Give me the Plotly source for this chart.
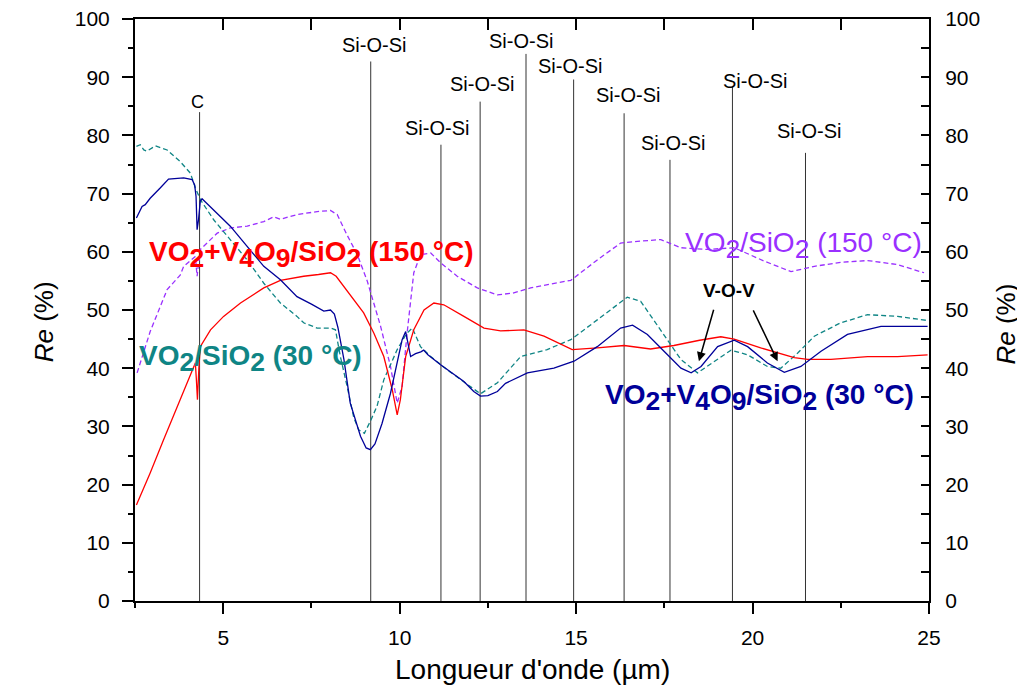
import plotly.graph_objects as go

FONT = "Liberation Sans, Arial, sans-serif"

# ---------------- data ----------------
# VO2+V4O9/SiO2 (30 °C) - navy solid
x_blue = [2.54, 2.70, 2.79, 2.93, 3.22, 3.45, 3.88, 4.12, 4.19, 4.23, 4.26, 4.30, 4.35, 4.40,
          5.20, 6.15, 6.62, 7.09, 7.50, 7.85, 8.04, 8.15, 8.25, 8.42, 8.60, 8.89, 9.05, 9.17,
          9.30, 9.50, 9.74, 9.90, 10.07, 10.17, 10.25, 10.31, 10.45, 10.60, 10.68, 10.80,
          11.16, 11.82, 12.10, 12.29, 12.50, 12.77, 13.00, 13.62, 14.37, 14.94, 15.60, 16.26,
          16.60, 17.02, 17.59, 17.97, 18.26, 18.54, 19.01, 19.48, 19.86, 20.42, 20.90, 21.37,
          21.94, 22.69, 23.64, 24.96]
y_blue = [65.8, 67.8, 68.1, 69.2, 71.0, 72.5, 72.7, 72.4, 71.5, 69.5, 63.8, 65.5, 68.7, 69.1,
          64.4, 57.5, 55.2, 52.3, 51.0, 49.8, 50.0, 49.3, 47.0, 41.5, 34.0, 28.3, 26.3, 26.0,
          27.0, 30.5, 35.7, 40.0, 44.9, 46.3, 44.0, 42.0, 42.5, 42.8, 43.1, 42.3,
          40.6, 37.7, 36.0, 35.2, 35.3, 36.0, 37.4, 39.2, 40.0, 41.2, 43.7, 46.9,
          47.4, 45.8, 42.3, 40.0, 39.2, 40.3, 43.7, 44.8, 43.7, 40.9, 39.3, 40.3,
          42.9, 45.8, 47.2, 47.2]

# VO2/SiO2 (30 °C) - teal dashed
x_teal = [2.54, 2.65, 2.75, 2.84, 3.08, 3.41, 3.78, 4.07, 4.21, 4.35, 4.73, 5.20, 5.68, 6.15,
          6.62, 7.09, 7.28, 7.66, 8.04, 8.18, 8.32, 8.51, 8.70, 8.84, 9.00, 9.17, 9.36, 9.55,
          9.93, 10.20, 10.36, 10.59, 10.88, 11.35, 12.01, 12.29, 12.77, 13.43, 14.18, 14.85,
          15.60, 16.45, 16.83, 17.40, 17.97, 18.44, 18.91, 19.39, 19.86, 20.42, 20.80, 21.28,
          21.75, 22.50, 23.26, 24.11, 24.96]
y_teal = [78.1, 78.4, 77.5, 77.3, 78.2, 77.5, 75.5, 73.5, 71.0, 69.0, 65.5, 62.1, 58.6, 54.6,
          51.2, 48.9, 47.8, 46.9, 46.9, 46.6, 42.0, 36.9, 31.5, 29.4, 28.8, 30.9, 33.5, 38.0,
          43.2, 46.0, 46.9, 43.7, 42.0, 39.7, 36.9, 35.6, 37.5, 42.0, 43.2, 44.9,
          48.3, 52.2, 51.5, 46.6, 41.5, 39.2, 41.2, 43.1, 42.3, 40.3, 40.0, 42.6,
          45.5, 47.8, 49.2, 48.9, 48.2]

# VO2+V4O9/SiO2 (150 °C) - red solid
x_red = [2.54, 2.93, 3.31, 3.78, 4.21, 4.24, 4.27, 4.31, 4.35, 4.64, 5.01, 5.49, 6.15, 6.62,
         7.28, 7.70, 8.04, 8.20, 8.51, 8.98, 9.27, 9.55, 9.79, 9.93, 10.02, 10.17, 10.40,
         10.69, 10.97, 11.25, 11.82, 12.39, 12.86, 13.52, 14.09, 14.89, 15.60, 16.36, 17.11,
         17.77, 18.50, 19.10, 19.48, 20.23, 21.18, 21.56, 22.22, 23.26, 24.11, 24.96]
y_red = [16.5, 22.0, 27.7, 34.6, 40.9, 38.0, 34.6, 40.0, 43.7, 46.6, 48.9, 51.2, 53.8, 55.1,
         55.8, 56.1, 56.4, 55.8, 53.3, 49.5, 46.0, 42.0, 36.3, 32.0, 34.6, 42.0, 46.6,
         50.0, 51.2, 50.9, 48.9, 46.9, 46.4, 46.6, 45.5, 43.2, 43.5, 43.9, 43.3,
         43.9, 44.8, 45.4, 45.0, 43.5, 41.8, 41.5, 41.5, 42.0, 42.0, 42.3]

# VO2/SiO2 (150 °C) - purple dashed
x_purple = [2.56, 2.75, 2.93, 3.31, 3.41, 3.78, 3.88, 4.21, 4.24, 4.26, 4.30, 4.35, 4.83, 5.20,
            5.68, 6.15, 6.43, 6.62, 7.09, 7.66, 8.04, 8.23, 8.50, 8.80, 9.08, 9.46, 9.74, 9.93,
            10.07, 10.21, 10.40, 10.59, 10.88, 11.16, 11.63, 12.20, 12.77, 13.20, 13.71, 14.85,
            15.60, 16.26, 16.74, 17.40, 17.97, 18.72, 19.48, 20.33, 21.09, 21.75, 22.50, 23.26,
            24.11, 24.86]
y_purple = [39.2, 43.0, 46.3, 52.0, 53.5, 56.0, 57.5, 59.2, 57.0, 55.8, 58.0, 60.4, 63.2, 64.1,
            64.4, 65.2, 66.0, 65.6, 66.4, 66.9, 67.1, 66.4, 63.0, 59.5, 55.0, 47.2, 40.3, 34.0,
            36.9, 46.0, 56.4, 59.5, 59.8, 58.1, 55.8, 53.8, 52.6, 52.9, 53.8, 55.1,
            58.6, 61.5, 61.8, 62.1, 60.7, 60.4, 60.7, 58.4, 56.6, 57.5, 58.2, 58.5,
            57.8, 56.4]

# band assignments (vertical markers)
peak_x = [4.33, 9.18, 11.17, 12.28, 13.58, 14.93, 16.36, 17.66, 19.43, 21.50]
peak_top = [84.0, 92.7, 78.4, 85.8, 94.0, 89.6, 83.8, 75.8, 88.5, 77.0]
peak_label = ["C", "Si-O-Si", "Si-O-Si", "Si-O-Si", "Si-O-Si", "Si-O-Si",
              "Si-O-Si", "Si-O-Si", "Si-O-Si", "Si-O-Si"]
label_y = [85.8, 95.5, 81.2, 88.9, 96.3, 92.0, 87.0, 78.7, 89.4, 80.7]
label_dx = [-2, 3, -4, 2, -5, -4, 4, 3, 23, 4]

# V-O-V arrows: (tail x, tail y, head x, head y)
vov_tail_x = [18.91, 20.00]
vov_tail_y = [50.3, 50.2]
vov_head_x = [18.48, 20.71]
vov_head_y = [41.2, 41.2]

RED = "#ff0000"
NAVY = "#000099"
TEAL = "#0f8585"
PURPLE = "#9a30ff"

fig = go.Figure()

fig.add_trace(go.Scatter(x=x_purple, y=y_purple, mode="lines",
                         line=dict(color=PURPLE, width=1.3, dash="5px,3px"),
                         name="VO2/SiO2 (150 °C)"))
fig.add_trace(go.Scatter(x=x_teal, y=y_teal, mode="lines",
                         line=dict(color=TEAL, width=1.3, dash="5px,3px"),
                         name="VO2/SiO2 (30 °C)"))
fig.add_trace(go.Scatter(x=x_red, y=y_red, mode="lines",
                         line=dict(color=RED, width=1.3),
                         name="VO2+V4O9/SiO2 (150 °C)"))
fig.add_trace(go.Scatter(x=x_blue, y=y_blue, mode="lines",
                         line=dict(color=NAVY, width=1.3),
                         name="VO2+V4O9/SiO2 (30 °C)"))
# invisible traces on the mirrored axes so they are drawn
fig.add_trace(go.Scatter(x=[x_blue[0]], y=[y_blue[0]], xaxis="x2", yaxis="y",
                         mode="lines", line=dict(width=0), hoverinfo="skip",
                         showlegend=False))
fig.add_trace(go.Scatter(x=[x_blue[0]], y=[y_blue[0]], xaxis="x", yaxis="y2",
                         mode="lines", line=dict(width=0), hoverinfo="skip",
                         showlegend=False))

shapes = []
annotations = []
for px, top, lab, ly, dx in zip(peak_x, peak_top, peak_label, label_y, label_dx):
    shapes.append(dict(type="line", xref="x", yref="y", x0=px, x1=px, y0=0, y1=top,
                       line=dict(color="#333333", width=1), layer="below"))
    annotations.append(dict(x=px, y=ly, xref="x", yref="y", text=lab, showarrow=False,
                            xanchor="center", yanchor="middle", xshift=dx,
                            font=dict(family=FONT, size=20 if lab != "C" else 18,
                                      color="black")))

for tx, ty, hx, hy in zip(vov_tail_x, vov_tail_y, vov_head_x, vov_head_y):
    annotations.append(dict(x=hx, y=hy, ax=tx, ay=ty, xref="x", yref="y",
                            axref="x", ayref="y", text="", showarrow=True,
                            arrowhead=2, arrowsize=1.2, arrowwidth=1.5,
                            arrowcolor="black"))

annotations.append(dict(x=19.33, y=53.3, xref="x", yref="y", text="<b>V-O-V</b>",
                        showarrow=False, xanchor="center", yanchor="middle",
                        font=dict(family=FONT, size=19, color="black")))


def sub(s):
    return '<sub><span style="font-size:135%">' + s + '</span></sub>'


series_labels = [
    ("<b>VO" + sub("2") + "+V" + sub("4") + "O" + sub("9") + "/SiO" + sub("2") + " (150 °C)</b>",
     2.85, 59.6, RED),
    ("<b>VO" + sub("2") + "/SiO" + sub("2") + " (30 °C)</b>", 2.56, 41.7, TEAL),
    ("VO" + sub("2") + "/SiO" + sub("2") + " (150 °C)", 18.04, 61.0, PURPLE),
    ("<b>VO" + sub("2") + "+V" + sub("4") + "O" + sub("9") + "/SiO" + sub("2") + " (30 °C)</b>",
     15.77, 34.9, NAVY),
]
for txt, lx, ly, col in series_labels:
    annotations.append(dict(x=lx, y=ly, xref="x", yref="y", text=txt, showarrow=False,
                            xanchor="left", yanchor="middle",
                            font=dict(family=FONT, size=28, color=col)))

# axis titles
annotations.append(dict(x=0.5, y=-0.118, xref="paper", yref="paper",
                        text="Longueur d'onde (µm)", showarrow=False,
                        xanchor="center", yanchor="middle",
                        font=dict(family=FONT, size=28, color="black")))
annotations.append(dict(x=-0.115, y=0.48, xref="paper", yref="paper",
                        text="<i>Re</i> (%)", showarrow=False, textangle=-90,
                        xanchor="center", yanchor="middle",
                        font=dict(family=FONT, size=26, color="black")))
annotations.append(dict(x=1.097, y=0.475, xref="paper", yref="paper",
                        text="<i>Re</i> (%)", showarrow=False, textangle=-90,
                        xanchor="center", yanchor="middle",
                        font=dict(family=FONT, size=26, color="black")))

tickfont = dict(family=FONT, size=21, color="black")

# the page body has an 8px margin, so the figure is offset by 8px
fig.update_layout(
    width=1017, height=683, autosize=False,
    margin=dict(l=127, r=96, t=11, b=90),
    paper_bgcolor="white", plot_bgcolor="white",
    showlegend=False,
    shapes=shapes, annotations=annotations,
    xaxis=dict(range=[2.5, 25], tickmode="linear", tick0=0, dtick=5,
               ticks="outside", ticklen=11, tickwidth=1.5, tickcolor="black",
               minor=dict(ticks="outside", dtick=2.5, tick0=0, ticklen=5,
                          tickwidth=1.5, tickcolor="black"),
               showline=True, linewidth=2, linecolor="black", mirror=True,
               showgrid=False, zeroline=False, tickfont=tickfont,
               ticklabelstandoff=6, automargin=False, ticklabeloverflow="allow"),
    xaxis2=dict(range=[2.5, 25], anchor="y", side="top", overlaying="x",
                tickmode="linear", tick0=0, dtick=2.5,
                ticks="inside", ticklen=11, tickwidth=1.5, tickcolor="black",
                showticklabels=False, showline=True, linewidth=2, linecolor="black",
                showgrid=False, zeroline=False),
    yaxis=dict(range=[0, 100], tickmode="linear", tick0=0, dtick=10,
               ticks="outside", ticklen=11, tickwidth=1.5, tickcolor="black",
               minor=dict(ticks="outside", dtick=5, tick0=0, ticklen=5,
                          tickwidth=1.5, tickcolor="black"),
               showline=True, linewidth=2, linecolor="black", mirror=True,
               showgrid=False, zeroline=False, tickfont=tickfont,
               ticklabelstandoff=8, automargin=False, ticklabeloverflow="allow"),
    yaxis2=dict(range=[0, 100], overlaying="y", side="right", anchor="x",
                tickmode="linear", tick0=0, dtick=10,
                ticks="inside", ticklen=8, tickwidth=1.5, tickcolor="black",
                minor=dict(ticks="inside", dtick=5, tick0=0, ticklen=8,
                           tickwidth=1.5, tickcolor="black"),
                showline=True, linewidth=2, linecolor="black",
                showgrid=False, zeroline=False, tickfont=tickfont,
                ticklabelstandoff=10, automargin=False, ticklabeloverflow="allow"),
)

fig.write_html("out.html")
